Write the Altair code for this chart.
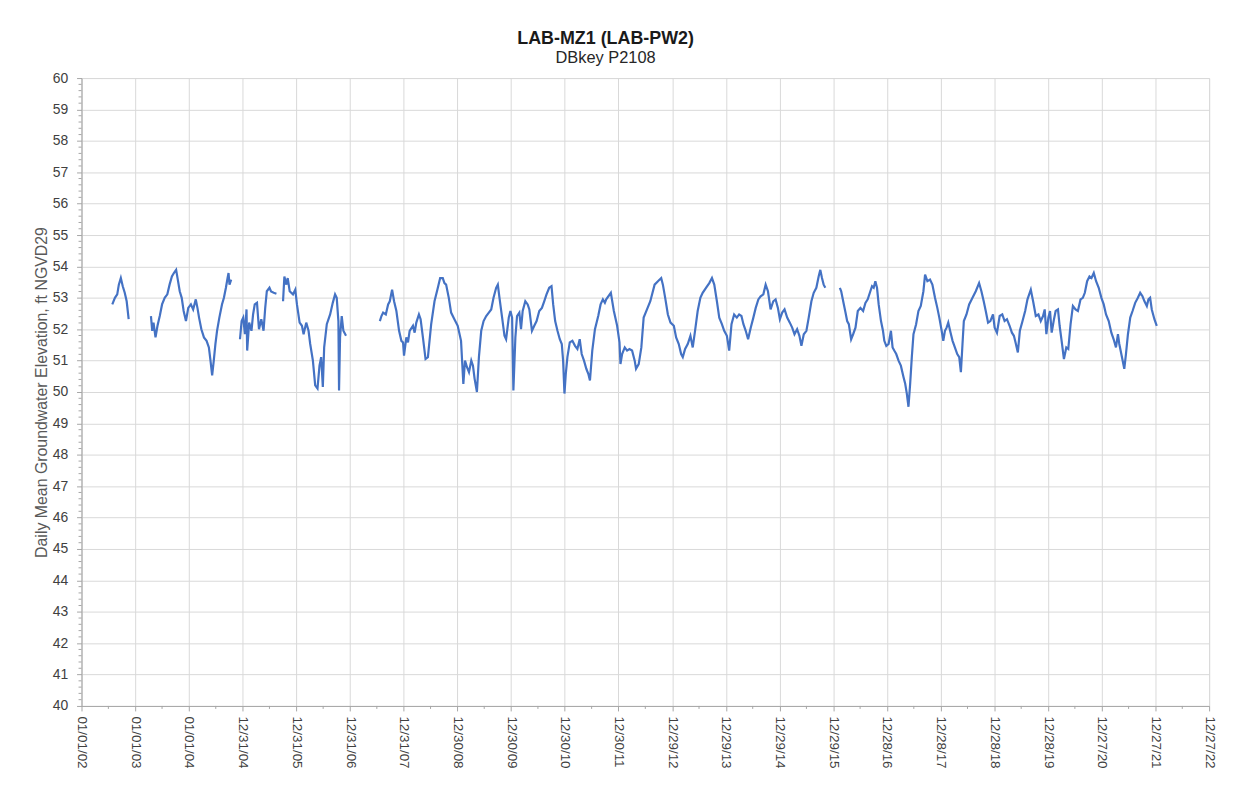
import altair as alt
import pandas as pd

TITLE = "LAB-MZ1 (LAB-PW2)"
SUBTITLE = "DBkey P2108"
Y_TITLE = "Daily Mean Groundwater Elevation, ft NGVD29"
TICK_LABELS = ["01/01/02", "01/01/03", "01/01/04", "12/31/04", "12/31/05", "12/31/06",
               "12/31/07", "12/30/08", "12/30/09", "12/30/10", "12/30/11", "12/29/12",
               "12/29/13", "12/29/14", "12/29/15", "12/28/16", "12/28/17", "12/28/18",
               "12/28/19", "12/27/20", "12/27/21", "12/27/22"]
Y_TICKS = list(range(40, 61))
DAYS_PER_TICK = 365

# (years after 01/01/02 in 365-day steps, daily mean elevation ft)
seg_2002 = [(0.573, 52.79), (0.622, 53.0), (0.665, 53.11), (0.695, 53.42), (0.732, 53.63),
            (0.768, 53.37), (0.805, 53.16), (0.841, 52.89), (0.878, 52.32)]

seg_2003 = [(1.293, 52.42), (1.317, 51.95), (1.341, 52.21), (1.378, 51.74), (1.415, 52.11),
            (1.457, 52.42), (1.5, 52.79), (1.549, 53.0), (1.598, 53.11), (1.64, 53.42),
            (1.683, 53.68), (1.72, 53.79), (1.762, 53.89), (1.793, 53.58), (1.829, 53.21),
            (1.866, 53.0), (1.902, 52.58), (1.945, 52.26), (1.988, 52.68), (2.037, 52.79),
            (2.079, 52.63), (2.128, 52.95), (2.159, 52.68), (2.189, 52.37), (2.232, 52.0),
            (2.28, 51.74), (2.329, 51.63), (2.372, 51.42), (2.402, 51.0), (2.433, 50.53),
            (2.463, 51.0), (2.494, 51.53), (2.524, 51.95), (2.567, 52.37), (2.616, 52.79),
            (2.652, 53.0), (2.689, 53.32), (2.72, 53.63), (2.738, 53.79), (2.756, 53.42),
            (2.787, 53.58)]

seg_2005 = [(2.951, 51.68), (2.982, 52.26), (3.012, 52.37), (3.043, 51.84), (3.073, 52.63),
            (3.085, 51.32), (3.122, 52.21), (3.165, 51.95), (3.195, 52.47), (3.226, 52.79),
            (3.268, 52.84), (3.305, 52.0), (3.348, 52.32), (3.39, 51.95), (3.421, 52.68),
            (3.451, 53.21), (3.5, 53.32), (3.53, 53.2), (3.58, 53.16), (3.63, 53.13)]

seg_2006 = [(3.753, 52.89), (3.778, 53.68), (3.815, 53.42), (3.84, 53.63), (3.877, 53.21),
            (3.938, 53.11), (3.981, 53.26), (4.012, 52.79), (4.062, 52.21), (4.105, 52.11),
            (4.136, 51.84), (4.185, 52.21), (4.228, 51.95), (4.259, 51.53), (4.309, 51.0),
            (4.352, 50.21), (4.395, 50.11), (4.432, 50.84), (4.463, 51.11), (4.494, 50.16),
            (4.519, 51.42), (4.568, 52.16), (4.63, 52.47), (4.679, 52.84), (4.722, 53.11),
            (4.753, 53.0), (4.784, 52.26), (4.796, 50.05), (4.815, 51.74), (4.846, 52.42),
            (4.877, 51.95), (4.926, 51.79)]

seg_2007 = [(5.556, 52.26), (5.586, 52.42), (5.617, 52.53), (5.667, 52.47), (5.71, 52.79),
            (5.741, 52.89), (5.784, 53.26), (5.821, 52.89), (5.864, 52.58), (5.914, 51.95),
            (5.957, 51.63), (5.988, 51.58), (6.006, 51.16), (6.049, 51.74), (6.08, 51.58),
            (6.111, 51.95), (6.173, 52.11), (6.204, 51.89), (6.235, 52.21), (6.284, 52.47),
            (6.315, 52.32), (6.358, 51.74), (6.407, 51.05), (6.451, 51.11), (6.512, 52.16),
            (6.574, 52.89), (6.636, 53.32), (6.679, 53.63), (6.728, 53.63), (6.759, 53.47),
            (6.79, 53.42), (6.84, 53.0), (6.883, 52.53), (6.944, 52.32), (7.006, 52.11),
            (7.068, 51.63), (7.111, 50.26), (7.142, 51.0), (7.179, 50.79), (7.216, 50.63),
            (7.259, 51.0), (7.29, 50.84), (7.321, 50.42), (7.364, 50.0), (7.401, 51.11),
            (7.444, 51.95), (7.488, 52.26), (7.537, 52.42), (7.586, 52.53), (7.63, 52.63),
            (7.673, 53.0), (7.722, 53.32), (7.753, 53.42), (7.784, 53.0), (7.833, 52.37),
            (7.877, 51.79), (7.907, 51.68), (7.957, 52.37), (7.988, 52.58), (8.019, 52.37),
            (8.043, 50.05), (8.08, 51.74), (8.111, 52.42), (8.154, 52.53), (8.185, 52.0),
            (8.216, 52.58), (8.265, 52.89), (8.309, 52.79), (8.34, 52.63), (8.389, 51.95),
            (8.432, 52.11), (8.475, 52.26), (8.525, 52.58), (8.574, 52.68), (8.617, 52.89),
            (8.66, 53.11), (8.71, 53.32), (8.753, 53.37), (8.784, 52.79), (8.821, 52.26),
            (8.864, 51.95), (8.907, 51.68), (8.944, 51.53), (8.969, 51.0), (8.994, 49.95),
            (9.019, 50.58), (9.049, 51.11), (9.093, 51.58), (9.142, 51.63), (9.191, 51.47),
            (9.235, 51.37), (9.278, 51.68), (9.315, 51.21), (9.358, 51.0), (9.401, 50.74),
            (9.438, 50.58), (9.469, 50.37), (9.512, 51.32), (9.562, 52.0), (9.623, 52.42),
            (9.667, 52.79), (9.71, 52.95), (9.747, 52.84), (9.772, 52.95), (9.858, 53.16),
            (9.914, 52.58), (9.975, 52.11), (10.019, 51.58), (10.037, 50.89), (10.068, 51.21),
            (10.117, 51.42), (10.16, 51.32), (10.204, 51.37), (10.253, 51.32), (10.302, 51.0),
            (10.327, 50.74), (10.377, 50.89), (10.426, 51.42), (10.469, 52.37), (10.531, 52.63),
            (10.593, 52.89), (10.673, 53.42), (10.735, 53.53), (10.796, 53.63), (10.827, 53.42),
            (10.87, 53.0), (10.92, 52.47), (10.969, 52.21), (11.031, 52.11), (11.074, 51.74),
            (11.123, 51.53), (11.167, 51.21), (11.198, 51.11), (11.241, 51.37), (11.29, 51.53),
            (11.34, 51.79), (11.383, 51.42), (11.426, 51.95), (11.475, 52.58), (11.525, 53.0),
            (11.568, 53.16), (11.63, 53.32), (11.691, 53.47), (11.741, 53.63), (11.784, 53.42),
            (11.833, 52.89), (11.877, 52.37), (11.926, 52.16), (11.969, 51.95), (12.019, 51.79),
            (12.062, 51.32), (12.105, 52.16), (12.154, 52.47), (12.204, 52.37), (12.247, 52.47),
            (12.29, 52.42), (12.327, 52.16), (12.37, 51.95), (12.414, 51.68), (12.463, 52.05),
            (12.512, 52.37), (12.556, 52.68), (12.605, 52.95), (12.648, 53.05), (12.698, 53.11),
            (12.741, 53.42), (12.784, 53.21), (12.833, 52.63), (12.883, 52.89), (12.926, 52.95),
            (12.969, 52.68), (13.006, 52.32), (13.049, 52.53), (13.093, 52.63), (13.142, 52.37),
            (13.191, 52.21), (13.235, 52.05), (13.278, 51.84), (13.327, 52.0), (13.37, 51.79),
            (13.407, 51.47), (13.451, 51.84), (13.5, 51.95), (13.543, 52.37), (13.593, 52.89),
            (13.636, 53.16), (13.685, 53.32), (13.728, 53.68), (13.759, 53.89), (13.79, 53.63),
            (13.821, 53.42), (13.852, 53.32)]

seg_2016 = [(14.123, 53.32), (14.148, 53.21), (14.185, 52.89), (14.228, 52.53), (14.259, 52.26),
            (14.29, 52.16), (14.333, 51.68), (14.37, 51.84), (14.414, 52.05), (14.457, 52.58),
            (14.506, 52.68), (14.556, 52.58), (14.599, 52.84), (14.642, 52.95), (14.691, 53.21),
            (14.722, 53.37), (14.753, 53.32), (14.784, 53.53), (14.815, 53.32), (14.846, 52.79),
            (14.889, 52.26), (14.926, 51.95), (14.951, 51.63), (14.988, 51.47), (15.031, 51.53),
            (15.074, 51.95), (15.105, 51.42), (15.136, 51.32), (15.173, 51.21), (15.216, 51.0),
            (15.259, 50.84), (15.309, 50.47), (15.34, 50.26), (15.37, 49.95), (15.401, 49.53),
            (15.432, 50.26), (15.463, 51.11), (15.494, 51.84), (15.543, 52.16), (15.586, 52.58),
            (15.63, 52.74), (15.679, 53.21), (15.71, 53.74), (15.753, 53.53), (15.802, 53.58),
            (15.846, 53.42), (15.895, 53.0), (15.938, 52.68), (15.975, 52.37), (16.019, 51.95),
            (16.049, 51.63), (16.08, 51.95), (16.111, 52.05), (16.142, 52.21), (16.185, 51.89),
            (16.222, 51.63), (16.265, 51.42), (16.309, 51.21), (16.346, 51.11), (16.377, 50.63),
            (16.407, 51.53), (16.432, 52.26), (16.481, 52.47), (16.531, 52.79), (16.593, 53.0),
            (16.654, 53.21), (16.716, 53.47), (16.759, 53.21), (16.802, 52.89), (16.84, 52.58),
            (16.883, 52.21), (16.926, 52.26), (16.975, 52.47), (17.006, 52.05), (17.049, 51.89),
            (17.099, 52.42), (17.148, 52.47), (17.191, 52.26), (17.235, 52.32), (17.284, 52.11),
            (17.327, 51.89), (17.364, 51.79), (17.395, 51.58), (17.438, 51.26), (17.475, 51.95),
            (17.525, 52.26), (17.574, 52.58), (17.617, 52.95), (17.679, 53.26), (17.722, 52.89),
            (17.772, 52.42), (17.821, 52.47), (17.864, 52.26), (17.907, 52.42), (17.938, 52.63),
            (17.969, 51.84), (18.006, 52.37), (18.037, 52.58), (18.068, 51.89), (18.111, 52.32),
            (18.142, 52.58), (18.185, 52.63), (18.216, 52.11), (18.253, 51.63), (18.296, 51.05),
            (18.34, 51.42), (18.377, 51.37), (18.42, 52.16), (18.463, 52.74), (18.512, 52.63),
            (18.556, 52.58), (18.605, 52.95), (18.648, 53.0), (18.685, 53.16), (18.728, 53.53),
            (18.772, 53.68), (18.809, 53.63), (18.852, 53.79), (18.895, 53.53), (18.944, 53.32),
            (18.994, 53.0), (19.037, 52.79), (19.08, 52.47), (19.13, 52.26), (19.179, 51.89),
            (19.222, 51.68), (19.265, 51.42), (19.302, 51.84), (19.327, 51.53), (19.377, 51.11),
            (19.42, 50.74), (19.451, 51.21), (19.488, 51.84), (19.531, 52.37), (19.574, 52.58),
            (19.623, 52.84), (19.673, 53.0), (19.716, 53.16), (19.759, 53.05), (19.796, 52.89),
            (19.84, 52.74), (19.87, 52.95), (19.901, 53.0), (19.932, 52.63), (19.981, 52.32),
            (20.025, 52.11)]

SEGMENTS = [seg_2002, seg_2003, seg_2005, seg_2006, seg_2007, seg_2016]

rows = []
for i, seg in enumerate(SEGMENTS):
    for t, v in seg:
        rows.append({"seg": i, "day": t * DAYS_PER_TICK, "elev": v})
df = pd.DataFrame(rows)

x_tick_values = [i * DAYS_PER_TICK for i in range(len(TICK_LABELS))]
x_minor = pd.DataFrame({"day": [(i + 0.5) * DAYS_PER_TICK for i in range(len(TICK_LABELS) - 1)]})
y_minor = pd.DataFrame({"elev": [40 + k * 0.2 for k in range(101) if k % 5]})

label_expr = "[" + ",".join("'" + s + "'" for s in TICK_LABELS) + "][round(datum.value / 365)]"

FONT = "Liberation Sans"
AXIS_GREY = "#a6a6a6"
GRID = "#d9d9d9"

x_scale = alt.Scale(domain=[0, x_tick_values[-1]], nice=False, zero=False)
y_scale = alt.Scale(domain=[40, 60], nice=False, zero=False)

x_axis = alt.Axis(values=x_tick_values, labelExpr=label_expr, labelAngle=90,
                  labelFontSize=13.5, labelColor="#404040", labelFont=FONT,
                  labelPadding=5, tickSize=5, tickColor=AXIS_GREY,
                  domainColor=AXIS_GREY, gridColor=GRID, labelOverlap=False,
                  labelFlush=False, title=None)
y_axis = alt.Axis(values=Y_TICKS, tickCount=21, labelFontSize=14, labelColor="#404040",
                  labelFont=FONT, labelPadding=9, tickSize=5, tickColor=AXIS_GREY,
                  domainColor=AXIS_GREY, gridColor=GRID, labelOverlap=False,
                  labelFlush=False, title=Y_TITLE, titleFont=FONT,
                  titleFontSize=16, titleFontWeight="normal",
                  titleColor="#595959", titlePadding=3)

line = alt.Chart(df).mark_line(color="#4472C4", strokeWidth=2.2).encode(
    x=alt.X("day:Q", scale=x_scale, axis=x_axis),
    y=alt.Y("elev:Q", scale=y_scale, axis=y_axis),
    detail="seg:N",
)

x_minor_ticks = alt.Chart(x_minor).mark_rule(color=AXIS_GREY, strokeWidth=1).encode(
    x=alt.X("day:Q", scale=x_scale, axis=x_axis), y=alt.value(632), y2=alt.value(635))
y_minor_ticks = alt.Chart(y_minor).mark_rule(color=AXIS_GREY, strokeWidth=1).encode(
    y=alt.Y("elev:Q", scale=y_scale, axis=y_axis), x=alt.value(-3), x2=alt.value(0))

chart = alt.layer(line, x_minor_ticks, y_minor_ticks).properties(
    width=1135,
    height=632,
    autosize=alt.AutoSizeParams(type="none"),
    padding={"left": 74, "top": 68, "right": 19, "bottom": 70},
    title=alt.TitleParams(TITLE, subtitle=SUBTITLE, font=FONT, fontSize=18,
                          fontWeight="bold", color="#1a1a1a", subtitleFont=FONT,
                          subtitleFontSize=16.5, subtitleColor="#262626",
                          anchor="middle", dx=-40, offset=5, subtitlePadding=2),
).configure_view(stroke=GRID).configure(background="white")

chart.save("out.html", embed_options={"renderer": "svg", "actions": False})
